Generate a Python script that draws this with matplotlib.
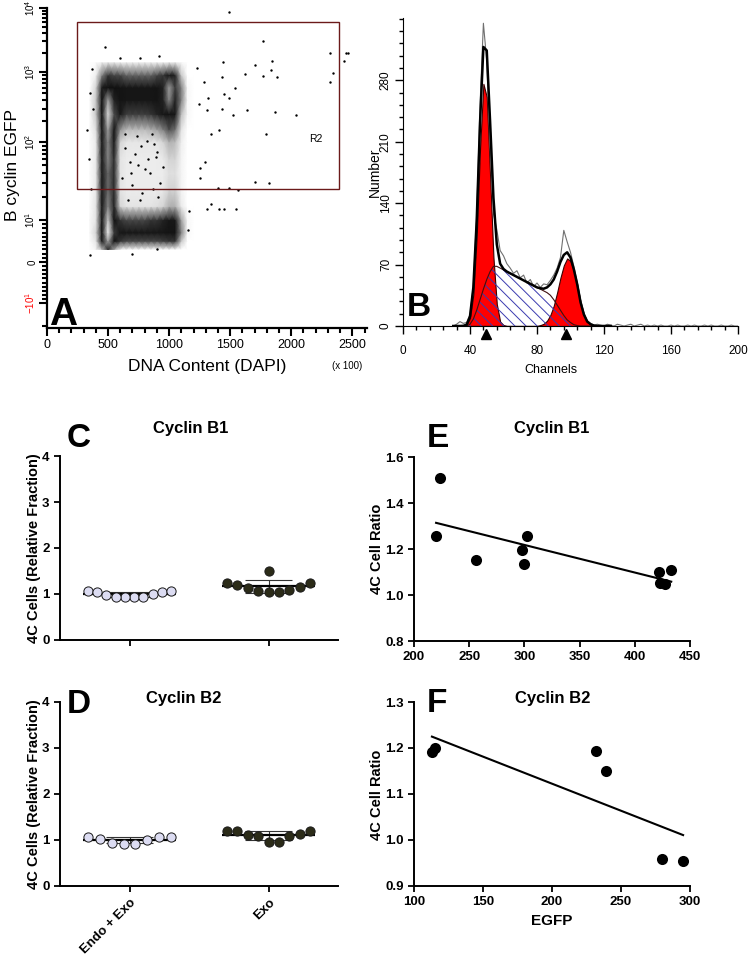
import numpy as np
import matplotlib
matplotlib.use("Agg")
import matplotlib.pyplot as plt
from matplotlib.patches import Rectangle
from matplotlib.colors import LinearSegmentedColormap
from matplotlib.ticker import FixedLocator, MultipleLocator

plt.rcParams['font.family'] = ['Liberation Sans', 'DejaVu Sans']
plt.rcParams['mathtext.fontset'] = 'custom'
plt.rcParams['mathtext.rm'] = 'Liberation Sans'
plt.rcParams['hatch.linewidth'] = 0.7
NARROW = ['Liberation Sans Narrow', 'Liberation Sans']

# ================= data =================
# --- A: DNA content vs cyclin B EGFP (density grid) ---
dens_x = [350, 400, 450, 500, 550, 600, 650, 700, 750, 800, 850, 900, 950, 1000, 1050, 1100, 1150, 1200]
dens_y = [3, 5, 7, 10, 15, 25, 40, 60, 100, 150, 250, 400, 600, 900, 1400]
dens = [
    [0.0, 0.3, 1.0, 2.2, 1.2, 0.4, 0.2, 0.2, 0.2, 0.2, 0.2, 0.2, 0.2, 0.2, 0.2, 0.0, 0.0, 0.0],
    [0.1, 0.6, 2.4, 4.2, 3.0, 2.0, 1.8, 1.8, 1.8, 1.8, 1.8, 1.8, 1.9, 2.0, 2.0, 0.9, 0.0, 0.0],
    [0.2, 0.8, 2.8, 5.0, 3.5, 2.6, 2.5, 2.5, 2.5, 2.5, 2.5, 2.5, 2.6, 2.8, 2.8, 1.4, 0.2, 0.0],
    [0.2, 0.6, 2.6, 4.6, 3.0, 2.0, 1.8, 1.8, 1.8, 1.8, 2.0, 2.0, 2.2, 2.5, 2.4, 1.2, 0.2, 0.0],
    [0.1, 0.6, 2.4, 4.0, 2.2, 0.8, 0.6, 0.6, 0.6, 0.6, 0.6, 0.7, 0.8, 1.1, 1.1, 0.5, 0.0, 0.0],
    [0.1, 0.5, 2.3, 3.8, 2.1, 0.6, 0.45, 0.45, 0.45, 0.45, 0.45, 0.45, 0.5, 0.8, 0.8, 0.3, 0.0, 0.0],
    [0.1, 0.5, 2.3, 3.8, 2.1, 0.6, 0.45, 0.45, 0.45, 0.45, 0.45, 0.45, 0.45, 0.7, 0.7, 0.3, 0.0, 0.0],
    [0.1, 0.5, 2.3, 4.0, 2.1, 0.6, 0.45, 0.45, 0.45, 0.45, 0.45, 0.45, 0.5, 0.8, 0.8, 0.3, 0.0, 0.0],
    [0.1, 0.5, 2.4, 4.0, 2.4, 0.8, 0.55, 0.55, 0.55, 0.55, 0.55, 0.6, 0.8, 1.1, 1.0, 0.4, 0.0, 0.0],
    [0.1, 0.7, 2.6, 4.2, 2.8, 1.3, 1.0, 1.0, 1.0, 1.0, 1.1, 1.2, 1.4, 1.7, 1.5, 0.6, 0.0, 0.0],
    [0.1, 0.9, 2.9, 4.8, 3.6, 2.4, 1.9, 1.9, 1.9, 1.9, 2.0, 2.2, 2.5, 2.8, 2.5, 1.0, 0.2, 0.0],
    [0.1, 0.9, 2.9, 4.2, 3.2, 2.8, 2.6, 2.6, 2.6, 2.6, 2.6, 2.8, 3.2, 4.0, 3.2, 1.4, 0.2, 0.0],
    [0.0, 0.8, 2.4, 3.0, 3.0, 2.8, 2.6, 2.6, 2.6, 2.6, 2.6, 2.8, 3.2, 4.2, 3.5, 1.4, 0.2, 0.0],
    [0.0, 0.4, 1.4, 2.0, 1.8, 1.8, 1.6, 1.6, 1.6, 1.6, 1.6, 1.8, 2.0, 2.5, 2.2, 0.9, 0.0, 0.0],
    [0.0, 0.1, 0.4, 0.5, 0.5, 0.4, 0.4, 0.4, 0.4, 0.4, 0.4, 0.4, 0.4, 0.5, 0.5, 0.2, 0.0, 0.0],
]
# single events outside the main cloud and scattered inside the S-phase gap
out_x = [1487, 1765, 2320, 2467, 2451, 2435, 2345, 2320, 1438, 1700, 1846, 1830, 1618, 1765, 1887,
         1430, 1225, 1283, 1536, 1446, 1487, 1315, 1242, 1307, 1430, 1520, 1634, 1863, 2042, 1405,
         1340, 1789, 1291, 1250, 1250, 1700, 1814, 1397, 1487, 1560, 1340, 1307, 1405, 1446, 1544,
         1160, 1152, 351, 474, 368, 600, 760, 920, 355, 380, 330, 345, 360, 700, 900,
         640, 690, 735, 780, 830, 880, 925, 660, 720, 805, 860, 905, 615, 700, 770, 845, 890, 950,
         640, 745, 820, 900, 680, 760, 870]
out_y = [8700, 3000, 2000, 2000, 1950, 1500, 960, 720, 1450, 1290, 1500, 1070, 930, 870, 840,
         840, 1150, 720, 590, 480, 420, 430, 350, 290, 300, 240, 290, 270, 240, 150,
         130, 130, 55, 46, 35, 31, 30, 26, 26, 24, 16, 14, 14, 14, 14,
         13, 7.6, 1.7, 2500, 1100, 1650, 1650, 1750, 500, 300, 150, 60, 25, 2, 3,
         85, 40, 120, 22, 60, 95, 30, 18, 70, 45, 130, 20, 35, 28, 90, 40, 65, 48,
         130, 50, 105, 75, 55, 18, 25]
gate_x = (245, 2394)
gate_y = (25, 6000)

# --- B: DNA histogram (ModFit style) ---
ch = np.arange(30, 126, 2)
g1 = [0, 0, 0, 0.2, 1.5, 9, 36, 102, 202, 276, 261, 171, 78, 25, 5, 1,
      0, 0, 0, 0, 0, 0, 0, 0, 0, 0, 0, 0, 0, 0, 0, 0,
      0, 0, 0, 0, 0, 0, 0, 0, 0, 0, 0, 0, 0, 0, 0, 0]
g2 = [0, 0, 0, 0, 0, 0, 0, 0, 0, 0, 0, 0, 0, 0, 0, 0,
      0, 0, 0, 0, 0, 0, 0, 0, 0, 0, 1, 2.5, 6, 12.5, 23, 38,
      55, 69, 77, 74, 63, 47, 27, 13, 5, 2, 0.5, 0, 0, 0, 0, 0]
s_phase = [0, 0, 0, 0, 0, 2, 8, 18, 30, 42, 53, 62, 68, 68, 66, 64,
           62, 60, 58, 56, 54, 52, 50, 48, 46, 44, 42, 40, 38, 35, 30, 24,
           18, 12, 7, 4, 1.5, 0.5, 0, 0, 0, 0, 0, 0, 0, 0, 0, 0]
ch_raw = np.arange(30, 202, 2)
raw = [0, 2, 5, 3, 4, 13, 46, 128, 252, 345, 302, 205, 128, 110, 86, 80,
       71, 66, 60, 63, 55, 58, 49, 53, 45, 49, 44, 48, 47, 52, 58, 66,
       78, 109, 96, 84, 68, 50, 30, 15, 6, 3, 1, 2, 1, 0, 2, 1,
       0, 2, 1, 0, 1, 2, 0, 1, 2, 0, 1, 0, 1, 0, 1, 0,
       0, 1, 0, 1, 0, 0, 1, 0, 1, 0, 0, 1, 0, 1, 0, 0,
       1, 0, 0, 1, 0, 0]
peak_marks = [49.6, 97.3]

# --- C/D: 4C cells, relative fraction ---
groups = ['Endo + Exo', 'Exo']
c_endo = [1.065, 1.037, 0.98, 0.94, 0.93, 0.94, 0.94, 1.01, 1.05, 1.07]
c_exo = [1.246, 1.196, 1.12, 1.07, 1.036, 1.036, 1.087, 1.146, 1.246, 1.50]
d_endo = [1.068, 1.032, 0.936, 0.922, 0.922, 0.996, 1.068, 1.068]
d_exo = [1.198, 1.141, 1.083, 1.198, 1.083, 1.10, 1.198, 0.959, 0.959]

# --- E/F: 4C cell ratio vs EGFP ---
e_x = [224, 220, 256, 302, 298, 300, 422, 433, 423, 427]
e_y = [1.51, 1.257, 1.151, 1.255, 1.197, 1.136, 1.099, 1.107, 1.052, 1.047]
f_x = [113, 115.5, 232, 239, 280, 295]
f_y = [1.191, 1.201, 1.194, 1.149, 0.958, 0.954]

# ================= helpers =================
W, H = 750, 961
fig = plt.figure(figsize=(7.5, 9.61), dpi=100)
fig.patch.set_facecolor('white')


def box(l, t, r, b):
    return [l / W, 1 - b / H, (r - l) / W, (b - t) / H]


def ftext(x, y, s, **kw):
    return fig.text(x / W, 1 - y / H, s, **kw)


# biexponential-like y scale of the cytometer plot
U_ANCH = [-2, -1, 0, 1, 2, 3, 4, 5]
D_ANCH = [-53, 25, 66, 108, 186, 256, 320, 384]


def _to_u(v):
    v = np.asarray(v, dtype=float)
    a = np.abs(v)
    lg = np.sign(v) * np.log10(np.where(a < 10, 10, a))
    return np.where(a < 10, v / 10.0, lg)


def _from_u(u):
    u = np.asarray(u, dtype=float)
    return np.where(np.abs(u) < 1, u * 10.0, np.sign(u) * 10.0 ** np.clip(np.abs(u), 0, 6))


def fwd(v):
    return np.interp(_to_u(v), U_ANCH, D_ANCH)


def inv(d):
    return _from_u(np.interp(d, D_ANCH, U_ANCH))


def swarm(vals, ythr=0.3):
    """simple column-scatter layout: lowest values in the middle"""
    vals = np.asarray(vals)
    slots = np.zeros(len(vals))
    cand = [0]
    for k in range(1, len(vals) + 1):
        cand += [k, -k]
    placed = []
    for i in np.argsort(vals, kind='stable'):
        for s in cand:
            if all(s != ps or abs(vals[i] - pv) >= ythr for ps, pv in placed):
                slots[i] = s
                placed.append((s, vals[i]))
                break
    slots -= (slots.min() + slots.max()) / 2
    span = slots.max() - slots.min()
    return slots * (0.6 / span if span else 0)


# ================= A =================
axA = fig.add_axes(box(47, 8, 367, 328))
axA.set_yscale('function', functions=(fwd, inv))
axA.set_xlim(0, 2620)
axA.set_ylim(float(inv(0)), 1e4)
cmap = LinearSegmentedColormap.from_list('flow', [
    (0.0, '#ffffff'), (0.06, '#f4f4f4'), (0.14, '#dedede'), (0.22, '#b0b0b0'), (0.34, '#505050'),
    (0.46, '#1a1a1a'), (0.6, '#111111'), (0.7, '#3a3a3a'), (0.8, '#858585'), (0.9, '#bdbdbd'),
    (1.0, '#f0f0f0')])
X, Y = np.meshgrid(dens_x, dens_y)
axA.pcolormesh(X, Y, np.array(dens), shading='gouraud', cmap=cmap, vmin=0, vmax=5)
axA.scatter(out_x, out_y, s=3, c='k', lw=0, zorder=3)
axA.add_patch(Rectangle((gate_x[0], gate_y[0]), gate_x[1] - gate_x[0], gate_y[1] - gate_y[0],
                        fill=False, ec='#6b1a1a', lw=1.0, zorder=4))
axA.text(2150, 110, 'R2', fontsize=7.5, va='center')
for sp in ['top', 'right']:
    axA.spines[sp].set_visible(False)
for sp in ['left', 'bottom']:
    axA.spines[sp].set_linewidth(1.6)
axA.xaxis.set_major_locator(MultipleLocator(500))
axA.xaxis.set_minor_locator(MultipleLocator(100))
axA.tick_params(axis='x', which='major', length=6, width=1.5, labelsize=9, pad=2)
axA.tick_params(axis='x', which='minor', length=3.5, width=1.5)
ymaj = [-10, 0, 10, 100, 1000, 10000]
axA.set_yticks(ymaj, [r'$\mathregular{-10^1}$', '0', r'$\mathregular{10^1}$', r'$\mathregular{10^2}$',
                      r'$\mathregular{10^3}$', r'$\mathregular{10^4}$'])
ymin_locs = ([-20] + list(range(-9, 0)) + list(range(1, 10)) + list(range(20, 100, 10))
             + list(range(200, 1000, 100)) + list(range(2000, 10000, 1000)))
axA.yaxis.set_minor_locator(FixedLocator(ymin_locs))
axA.tick_params(axis='y', which='major', length=6, width=1.5, labelsize=7, labelrotation=90, pad=1)
axA.tick_params(axis='y', which='minor', length=3.5, width=1.5)
for lab in axA.get_yticklabels():
    lab.set_va('center')
axA.get_yticklabels()[0].set_color('red')
axA.yaxis.get_major_ticks()[0].tick1line.set_color('red')
mticks = axA.yaxis.get_minor_ticks(len(ymin_locs))
for t, loc in zip(mticks, ymin_locs):
    t.tick1line.set_color('red' if loc < 0 else 'black')
ftext(13, 165, 'B cyclin EGFP', rotation=90, ha='center', va='center', fontsize=12.5)
ftext(207, 367, 'DNA Content (DAPI)', ha='center', va='center', fontsize=12.5)
ftext(347, 366, '(x 100)', ha='center', va='center', fontsize=7)
ftext(49, 325, 'A', fontsize=28, weight='bold', va='baseline')

# ================= B =================
axB = fig.add_axes(box(403, 18, 738, 326))
axB.set_xlim(0, 200)
axB.set_ylim(0, 351)
fit = np.array(g1) + np.array(g2) + np.array(s_phase)
axB.fill_between(ch, g1, color='#ff0000', ec='#3a0000', lw=0.8, zorder=2)
axB.fill_between(ch, g2, color='#ff0000', ec='#3a0000', lw=0.8, zorder=2)
axB.fill_between(ch, s_phase, facecolor='none', hatch='\\' * 3, edgecolor='#3a3ab0', lw=0, zorder=3)
axB.plot(ch, s_phase, color='#401010', lw=0.8, zorder=3)
axB.plot(ch_raw, raw, color='#707070', lw=0.8, zorder=4)
axB.plot(ch, fit, color='k', lw=1.8, zorder=5)
axB.plot(peak_marks, [-9] * len(peak_marks), ls='none', marker='^', color='k', ms=7, clip_on=False, zorder=6)
for sp in ['top', 'right']:
    axB.spines[sp].set_visible(False)
axB.xaxis.set_major_locator(MultipleLocator(40))
axB.xaxis.set_minor_locator(MultipleLocator(8))
axB.yaxis.set_major_locator(FixedLocator([0, 70, 140, 210, 280]))
axB.yaxis.set_minor_locator(MultipleLocator(14))
axB.tick_params(which='major', length=6, width=1, labelsize=8.5, labelfontfamily=NARROW)
axB.tick_params(which='minor', length=3, width=1)
axB.tick_params(axis='x', pad=8)
axB.tick_params(axis='y', labelrotation=90, pad=2)
for lab in axB.get_yticklabels():
    lab.set_va('center')
ftext(375, 172, 'Number', rotation=90, ha='center', va='center', fontsize=10, family=NARROW)
ftext(551, 370, 'Channels', ha='center', va='center', fontsize=9, family=NARROW)
ftext(407, 316, 'B', fontsize=24, weight='bold', va='baseline')

# ================= C / D =================
def dot_panel(ax, endo, exo, show_labels):
    ax.set_xlim(-0.5, 1.5)
    ax.set_ylim(0, 4)
    for g, vals, fc in [(0, endo, '#dcdcf2'), (1, exo, '#2b2b18')]:
        vals = np.asarray(vals)
        m, sd = vals.mean(), vals.std(ddof=1)
        ax.vlines(g, m - sd, m + sd, color='#333333', lw=0.8, zorder=2)
        ax.hlines([m - sd, m + sd], g - 0.17, g + 0.17, color='#333333', lw=0.8, zorder=2)
        ax.hlines(m, g - 0.335, g + 0.335, color='k', lw=1.6, zorder=2)
        ax.scatter(g + swarm(vals), vals, s=44, fc=fc, ec='#1a1a1a', lw=0.7, zorder=3)
    for sp in ['top', 'right']:
        ax.spines[sp].set_visible(False)
    for sp in ['left', 'bottom']:
        ax.spines[sp].set_linewidth(1.4)
    ax.set_yticks([0, 1, 2, 3, 4])
    ax.set_xticks([0, 1])
    ax.tick_params(length=4, width=1.3, labelsize=9.5)
    for lab in ax.get_yticklabels():
        lab.set_fontweight('bold')
    if show_labels:
        ax.set_xticklabels(groups, rotation=45, ha='right', rotation_mode='anchor', fontweight='bold')
    else:
        ax.set_xticklabels([])


axC = fig.add_axes(box(60, 456, 338, 640))
dot_panel(axC, c_endo, c_exo, False)
axD = fig.add_axes(box(60, 702, 338, 886))
dot_panel(axD, d_endo, d_exo, True)
for yc in [548, 794]:
    ftext(34, yc, '4C Cells (Relative Fraction)', rotation=90, ha='center', va='center',
          fontsize=10.5, weight='bold')
ftext(67, 447, 'C', fontsize=24, weight='bold', va='baseline')
ftext(191, 429, 'Cyclin B1', ha='center', va='center', fontsize=12, weight='bold')
ftext(67, 713, 'D', fontsize=24, weight='bold', va='baseline')
ftext(184, 699, 'Cyclin B2', ha='center', va='center', fontsize=12, weight='bold')

# ================= E / F =================
def reg_panel(ax, xs, ys, xlim, ylim, xstep, ystep):
    ax.set_xlim(*xlim)
    ax.set_ylim(*ylim)
    xs, ys = np.asarray(xs, float), np.asarray(ys, float)
    k, b = np.polyfit(xs, ys, 1)
    xx = np.array([xs.min(), xs.max()])
    ax.plot(xx, k * xx + b, color='k', lw=1.5, zorder=2)
    ax.scatter(xs, ys, s=64, c='k', lw=0, zorder=3, clip_on=False)
    for sp in ['top', 'right']:
        ax.spines[sp].set_visible(False)
    for sp in ['left', 'bottom']:
        ax.spines[sp].set_linewidth(1.4)
    ax.set_xticks(np.arange(xlim[0], xlim[1] + 1e-9, xstep))
    yt = np.arange(ylim[0], ylim[1] + 1e-9, ystep)
    ax.set_yticks(yt, ['%.1f' % v for v in yt])
    ax.tick_params(length=4, width=1.3, labelsize=9.5)
    for lab in ax.get_xticklabels() + ax.get_yticklabels():
        lab.set_fontweight('bold')


axE = fig.add_axes(box(414, 457, 690, 641))
reg_panel(axE, e_x, e_y, (200, 450), (0.8, 1.6), 50, 0.2)
axF = fig.add_axes(box(414, 702, 690, 886))
reg_panel(axF, f_x, f_y, (100, 300), (0.9, 1.3), 50, 0.1)
for yc in [549, 795]:
    ftext(377, yc, '4C Cell Ratio', rotation=90, ha='center', va='center', fontsize=10.5, weight='bold')
ftext(552, 921, 'EGFP', ha='center', va='center', fontsize=11, weight='bold')
ftext(427, 447, 'E', fontsize=24, weight='bold', va='baseline')
ftext(552, 428, 'Cyclin B1', ha='center', va='center', fontsize=12, weight='bold')
ftext(427, 712, 'F', fontsize=24, weight='bold', va='baseline')
ftext(553, 699, 'Cyclin B2', ha='center', va='center', fontsize=12, weight='bold')

fig.savefig('out.png', dpi=100, facecolor='white')
